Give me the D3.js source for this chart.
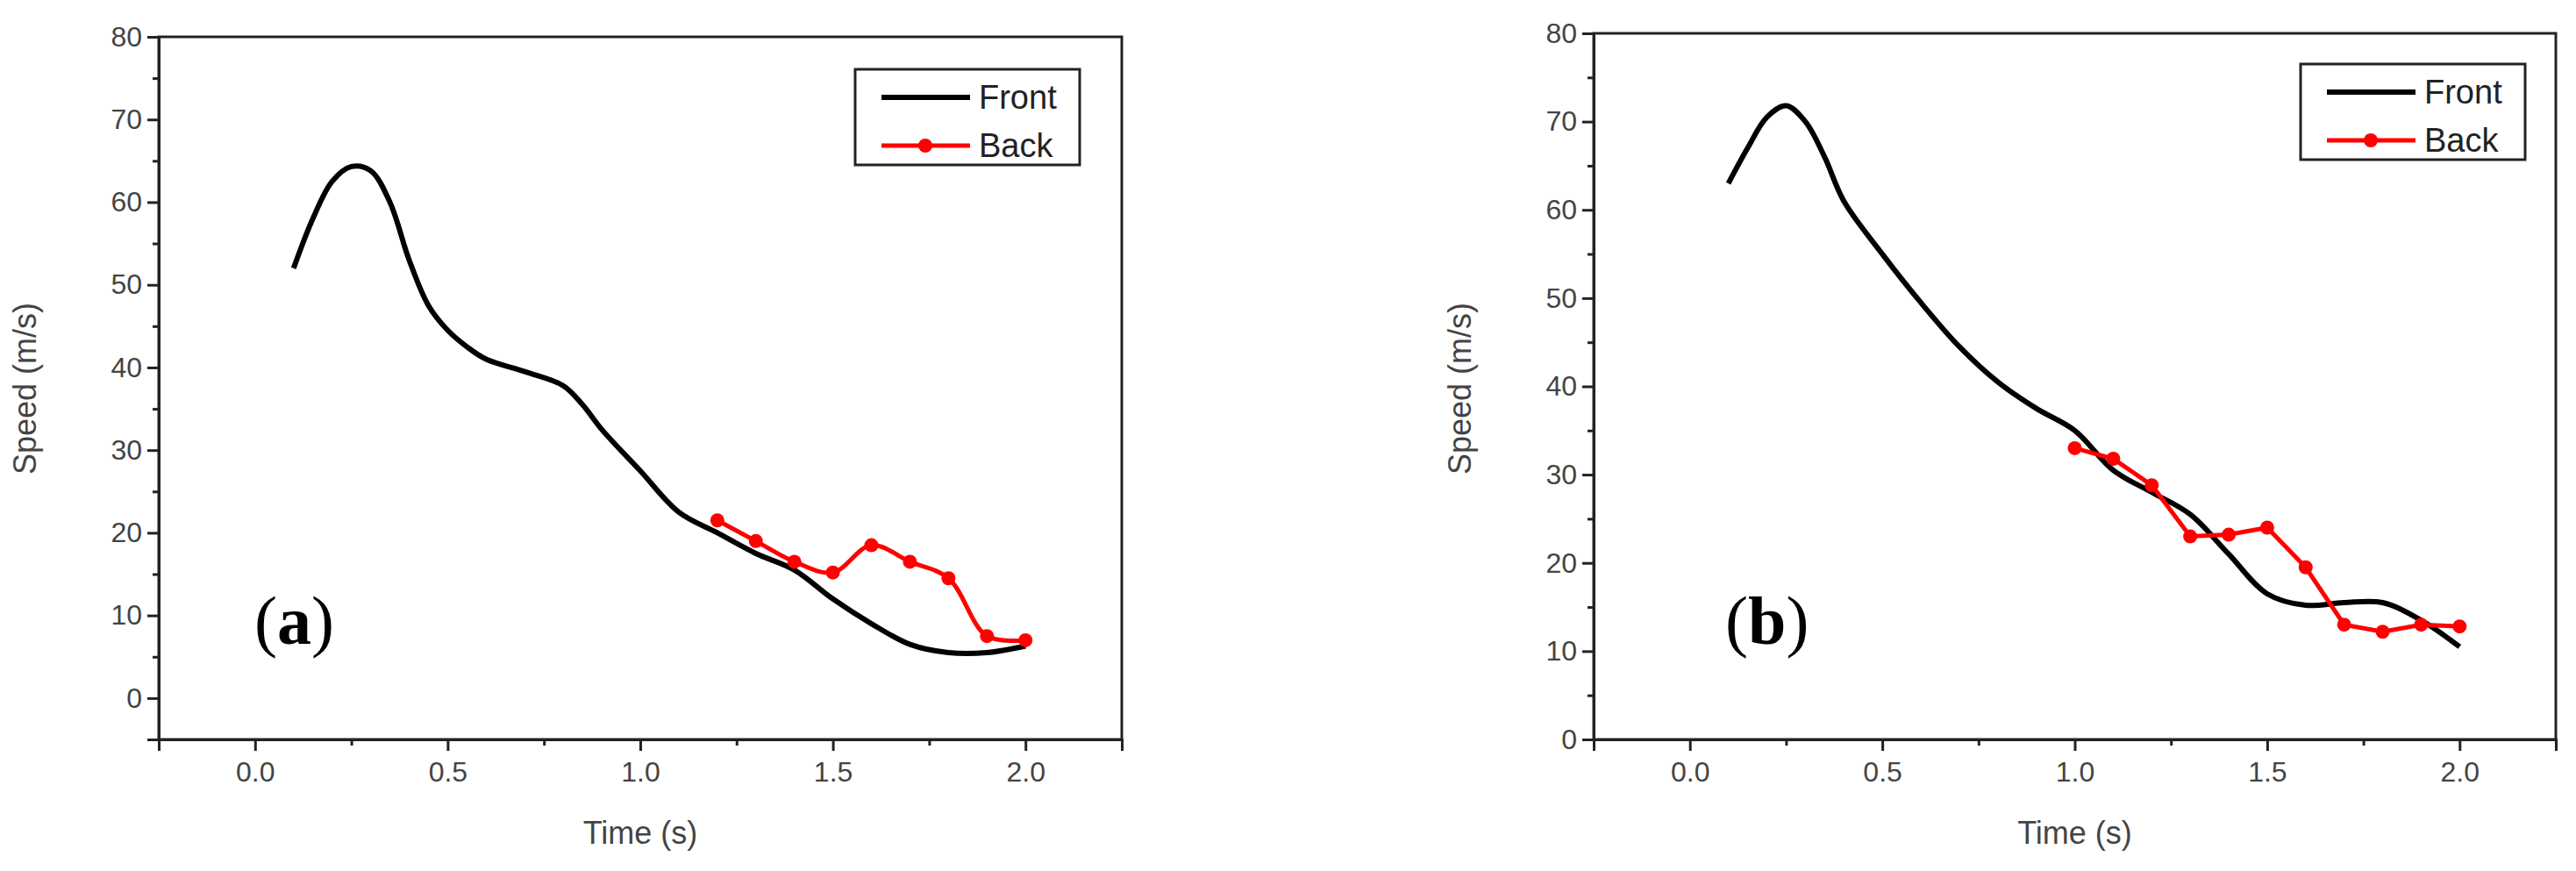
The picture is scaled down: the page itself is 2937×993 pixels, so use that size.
<!DOCTYPE html>
<html><head><meta charset="utf-8">
<script src="https://cdn.jsdelivr.net/npm/d3@7"></script>
<style>body{margin:0;background:#fff}text{font-family:"Liberation Sans",Arial,sans-serif}</style>
</head><body>
<svg id="canvas" width="2937" height="993"></svg>
<script>
// time (s)
const frontTimeA = [0.1,0.15,0.2,0.25,0.3,0.35,0.4,0.45,0.5,0.55,0.6,0.7,0.8,0.85,0.9,1.0,1.1,1.2,1.3,1.4,1.5,1.6,1.7,1.8,1.9,2.0];
const frontSpeedA = [52,58,62.5,64.3,63.8,60,53,47.5,44.5,42.5,41,39.5,37.8,35.5,32.5,27.5,22.5,20,17.5,15.5,12,9,6.5,5.5,5.5,6.3];
const backTimeA = [1.2,1.3,1.4,1.5,1.6,1.7,1.8,1.9,2.0];
const backSpeedA = [21.5,19,16.5,15.2,18.5,16.5,14.5,7.5,7];

const frontTimeB = [0.1,0.15,0.2,0.25,0.3,0.35,0.4,0.5,0.6,0.7,0.8,0.9,1.0,1.1,1.2,1.3,1.4,1.5,1.6,1.7,1.8,1.9,2.0];
const frontSpeedB = [63,67,70.5,71.8,70,66,61,55,49.5,44.5,40.5,37.5,35,30.5,28,25.5,21,16.5,15.2,15.5,15.5,13.5,10.5];
const backTimeB = [1.0,1.1,1.2,1.3,1.4,1.5,1.6,1.7,1.8,1.9,2.0];
const backSpeedB = [33,31.8,28.8,23,23.2,24,19.5,13,12.2,13,12.8];

const xTicks = [0, 0.5, 1.0, 1.5, 2.0];
const yTicks = [0,10,20,30,40,50,60,70,80];

const svg = d3.select("#canvas");
const zip = (xs, ys) => xs.map((x, i) => [x, ys[i]]);

function panel(o) {
  const x = d3.scaleLinear().domain([-0.25, 2.25]).range([o.left, o.right]);
  const y = d3.scaleLinear().domain(o.yDomain).range([843, o.top]);
  const g = svg.append("g");

  // frame
  g.append("rect").attr("x", o.left).attr("y", y.range()[1])
    .attr("width", o.right - o.left).attr("height", 843 - y.range()[1])
    .attr("fill", "none").attr("stroke", "#222").attr("stroke-width", 3);

  g.append("g").attr("transform", "translate(0,843)")
    .call(d3.axisBottom(x).tickValues(xTicks).tickFormat(d3.format(".1f")).tickSize(13).tickPadding(12));
  g.append("g").attr("transform", "translate(0,843)")
    .call(d3.axisBottom(x).tickValues(d3.range(-0.25, 2.3, 0.5)).tickFormat("").tickSize(7))
    .call(s => s.select(".domain").remove());
  g.append("g").attr("transform", `translate(${o.left},0)`)
    .call(d3.axisLeft(y).tickValues(yTicks).tickSize(13).tickPadding(6));
  g.append("g").attr("transform", `translate(${o.left},0)`)
    .call(d3.axisLeft(y).tickValues(d3.range(5, 80, 10)).tickFormat("").tickSize(7))
    .call(s => s.select(".domain").remove());
  g.selectAll(".tick line").attr("stroke", "#222").attr("stroke-width", 3);
  g.selectAll(".domain").attr("stroke", "#222").attr("stroke-width", 3);
  g.selectAll(".tick text").attr("font-size", 32).attr("fill", "#444");

  g.append("text").attr("x", (o.left + o.right) / 2).attr("y", 962)
    .attr("text-anchor", "middle").attr("font-size", 36).attr("fill", "#444").text("Time (s)");
  g.append("text").attr("transform", `translate(${o.left - 140},443) rotate(-90)`)
    .attr("text-anchor", "middle").attr("font-size", 36).attr("fill", "#444").text("Speed (m/s)");

  const front = d3.line().x(d => x(d[0])).y(d => y(d[1])).curve(d3.curveCatmullRom);
  g.append("path").datum(zip(o.ft, o.fs)).attr("d", front)
    .attr("fill", "none").attr("stroke", "#000").attr("stroke-width", 6);
  const backPts = zip(o.bt, o.bs);
  const back = d3.line().x(d => x(d[0])).y(d => y(d[1])).curve(o.backCurve);
  g.append("path").datum(backPts).attr("d", back)
    .attr("fill", "none").attr("stroke", "#f00").attr("stroke-width", 5);
  g.selectAll(".pt").data(backPts).join("circle")
    .attr("cx", d => x(d[0])).attr("cy", d => y(d[1])).attr("r", 8).attr("fill", "#f00");

  // legend
  const lg = g.append("g").attr("transform", `translate(${o.legX},${o.legY})`);
  lg.append("rect").attr("width", 256).attr("height", 109)
    .attr("fill", "#fff").attr("stroke", "#222").attr("stroke-width", 3);
  lg.append("line").attr("x1", 30).attr("x2", 131).attr("y1", 32).attr("y2", 32)
    .attr("stroke", "#000").attr("stroke-width", 6);
  lg.append("line").attr("x1", 30).attr("x2", 131).attr("y1", 87).attr("y2", 87)
    .attr("stroke", "#f00").attr("stroke-width", 5);
  lg.append("circle").attr("cx", 80).attr("cy", 87).attr("r", 8).attr("fill", "#f00");
  lg.append("text").attr("x", 141).attr("y", 45).attr("font-size", 38).attr("fill", "#222").text("Front");
  lg.append("text").attr("x", 141).attr("y", 100).attr("font-size", 38).attr("fill", "#222").text("Back");

  g.append("text").attr("x", o.tagX).attr("y", 734)
    .style("font-family", "'Liberation Serif','DejaVu Serif',serif").attr("font-size", 78)
    .attr("fill", "#000").html(`(<tspan font-weight="bold">${o.tag}</tspan>)`);
}

panel({left: 181, right: 1279, top: 42, yDomain: [-5, 80], ft: frontTimeA, fs: frontSpeedA,
  bt: backTimeA, bs: backSpeedA, backCurve: d3.curveCatmullRom, legX: 975, legY: 79, tag: "a", tagX: 290});
panel({left: 1817, right: 2914, top: 38, yDomain: [0, 80], ft: frontTimeB, fs: frontSpeedB,
  bt: backTimeB, bs: backSpeedB, backCurve: d3.curveLinear, legX: 2623, legY: 73, tag: "b", tagX: 1967});
</script>
</body></html>
